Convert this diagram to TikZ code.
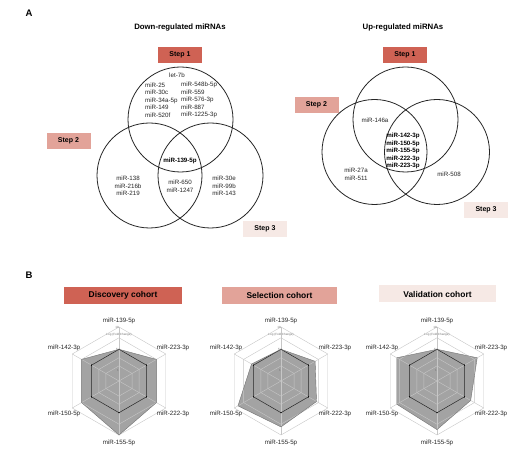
\documentclass[tikz,border=0pt]{standalone}
\usepackage{fontspec}
\setmainfont{Liberation Sans}
\definecolor{cA}{RGB}{207,98,84}
\definecolor{cB}{RGB}{226,163,153}
\definecolor{cC}{RGB}{246,233,229}
\newcommand{\myradar}[8]{%
\begin{scope}[shift={#2}]
  \fill[polyfill] (-90:{#3*54}) -- (-30:{#4*54}) -- (30:{#5*54}) -- (90:{#6*54}) -- (150:{#7*54}) -- (210:{#8*54}) -- cycle;
  \foreach \rr in {0.28,0.43,0.8,1}
    \draw[ring] (-90:{\rr*54}) \foreach \a in {-30,30,90,150,210}{ -- (\a:{\rr*54})} -- cycle;
  \foreach \a in {-90,-30,30,90,150,210}
    \draw[ring] (0,0) -- (\a:54);
  \draw[darkring] (-90:{0.587*54}) \foreach \a in {-30,30,90,150,210}{ -- (\a:{0.587*54})} -- cycle;
  \foreach \a in {-90,-30,30,90,150,210}
    \fill[black] (\a:{0.587*54}) circle (0.7);
  \draw[polyline] (-90:{#3*54}) -- (-30:{#4*54}) -- (30:{#5*54}) -- (90:{#6*54}) -- (150:{#7*54}) -- (210:{#8*54}) -- cycle;
  \node[tiny] (#1-log) at (0,-46) {Log (Fold Change)};
  \node[tiny] (#1-t1) at (-2,-54) {10};
  \node[tiny] (#1-t2) at (-2,-32) {5};
  \node[tiny] (#1-t3) at (-1,-11) {1};
  \node[rl] (#1-a) at (0,-60) {miR-139-5p};
  \node[rl] (#1-b) at (54,-33) {miR-223-3p};
  \node[rl] (#1-c) at (54,33) {miR-222-3p};
  \node[rl] (#1-d) at (0,62) {miR-155-5p};
  \node[rl] (#1-e) at (-55,33) {miR-150-5p};
  \node[rl] (#1-f) at (-55,-33) {miR-142-3p};
\end{scope}}
\begin{document}
\begin{tikzpicture}[x=1pt,y=-1pt,
  vt/.style={inner sep=0pt, font=\fontsize{6.2}{7.5}\selectfont, text=black!85},
  vb/.style={inner sep=0pt, font=\fontsize{6.2}{7.4}\selectfont\bfseries, text=black},
  venn/.style={circle, draw=black!85, line width=0.8pt, minimum size=105pt, inner sep=0pt},
  stepbox/.style={minimum width=44pt, minimum height=16pt, inner sep=0pt, font=\fontsize{7}{8}\selectfont\bfseries},
  cohort/.style={minimum height=17pt, inner sep=0pt, font=\fontsize{8.4}{9}\selectfont\bfseries},
  ttl/.style={inner sep=0pt, font=\fontsize{7.8}{9}\selectfont\bfseries},
  panel/.style={inner sep=0pt, font=\fontsize{9.5}{10}\selectfont\bfseries},
  polyfill/.style={fill=black!36},
  polyline/.style={draw=black!55, line width=0.4pt},
  ring/.style={draw=black!22, line width=0.4pt},
  darkring/.style={draw=black!85, line width=0.5pt},
  tiny/.style={inner sep=0pt, font=\fontsize{3}{3.5}\selectfont, text=black!55},
  rl/.style={inner sep=0pt, font=\fontsize{6.2}{7}\selectfont, text=black!85}
]
\useasboundingbox (0,0) rectangle (528,457);
\fill[white] (0,0) rectangle (528,457);

% ---------- Panel A ----------
\node[panel] (lblA) at (29,13) {A};
\node[ttl] (t1) at (180,28) {Down-regulated miRNAs};
\node[ttl] (t2) at (403,28) {Up-regulated miRNAs};

% left Venn
\node[venn] (d1) at (180.5,119.5) {};
\node[venn] (d2) at (149.5,175.5) {};
\node[venn] (d3) at (210.5,175.5) {};
\node[stepbox, fill=cA] (ds1) at (180,55) {Step 1};
\node[stepbox, fill=cB] (ds2) at (68.5,141) {Step 2};
\node[stepbox, fill=cC] (ds3) at (265,229) {Step 3};

\node[vt] (let) at (177,75) {let-7b};
\node[vt, align=left, anchor=west] (dc1) at (145,100) {miR-25\\miR-30c\\miR-34a-5p\\miR-149\\miR-520f};
\node[vt, align=left, anchor=west] (dc2) at (181,100) {miR-548b-5p\\miR-559\\miR-576-3p\\miR-887\\miR-1225-3p};
\node[vb] (d139) at (180,161) {miR-139-5p};
\node[vt, align=center] (dl) at (128,186) {miR-138\\miR-216b\\miR-219};
\node[vt, align=center] (dm) at (180,186.5) {miR-650\\miR-1247};
\node[vt, align=center] (dr) at (224,186) {miR-30e\\miR-99b\\miR-143};

% right Venn
\node[venn] (u1) at (405.5,119.5) {};
\node[venn] (u2) at (374.5,152) {};
\node[venn] (u3) at (437,152) {};
\node[stepbox, fill=cA] (us1) at (405,55) {Step 1};
\node[stepbox, fill=cB] (us2) at (316.5,105) {Step 2};
\node[stepbox, fill=cC] (us3) at (486,210) {Step 3};

\node[vt] (u146) at (375,120) {miR-146a};
\node[vb, align=center] (ubold) at (403,151) {miR-142-3p\\miR-150-5p\\miR-155-5p\\miR-222-3p\\miR-223-3p};
\node[vt, align=center] (ul) at (356,174.5) {miR-27a\\miR-511};
\node[vt] (u508) at (449,174) {miR-508};

% ---------- Panel B ----------
\node[panel] (lblB) at (29,275) {B};
\node[cohort, fill=cA, minimum width=118pt] (co1) at (123,295.5) {Discovery cohort};
\node[cohort, fill=cB, minimum width=115pt] (co2) at (279.5,295.5) {Selection cohort};
\node[cohort, fill=cC, minimum width=117pt] (co3) at (437.5,294) {Validation cohort};

\myradar{ra}{(119,381)}{0.587}{0.8}{0.8}{1.0}{0.8}{0.8}
\myradar{rb}{(281,381)}{0.587}{0.73}{0.76}{0.85}{0.92}{0.63}
\myradar{rc}{(437,381)}{0.587}{0.86}{0.72}{0.9}{0.86}{0.86}
\end{tikzpicture}
\end{document}
